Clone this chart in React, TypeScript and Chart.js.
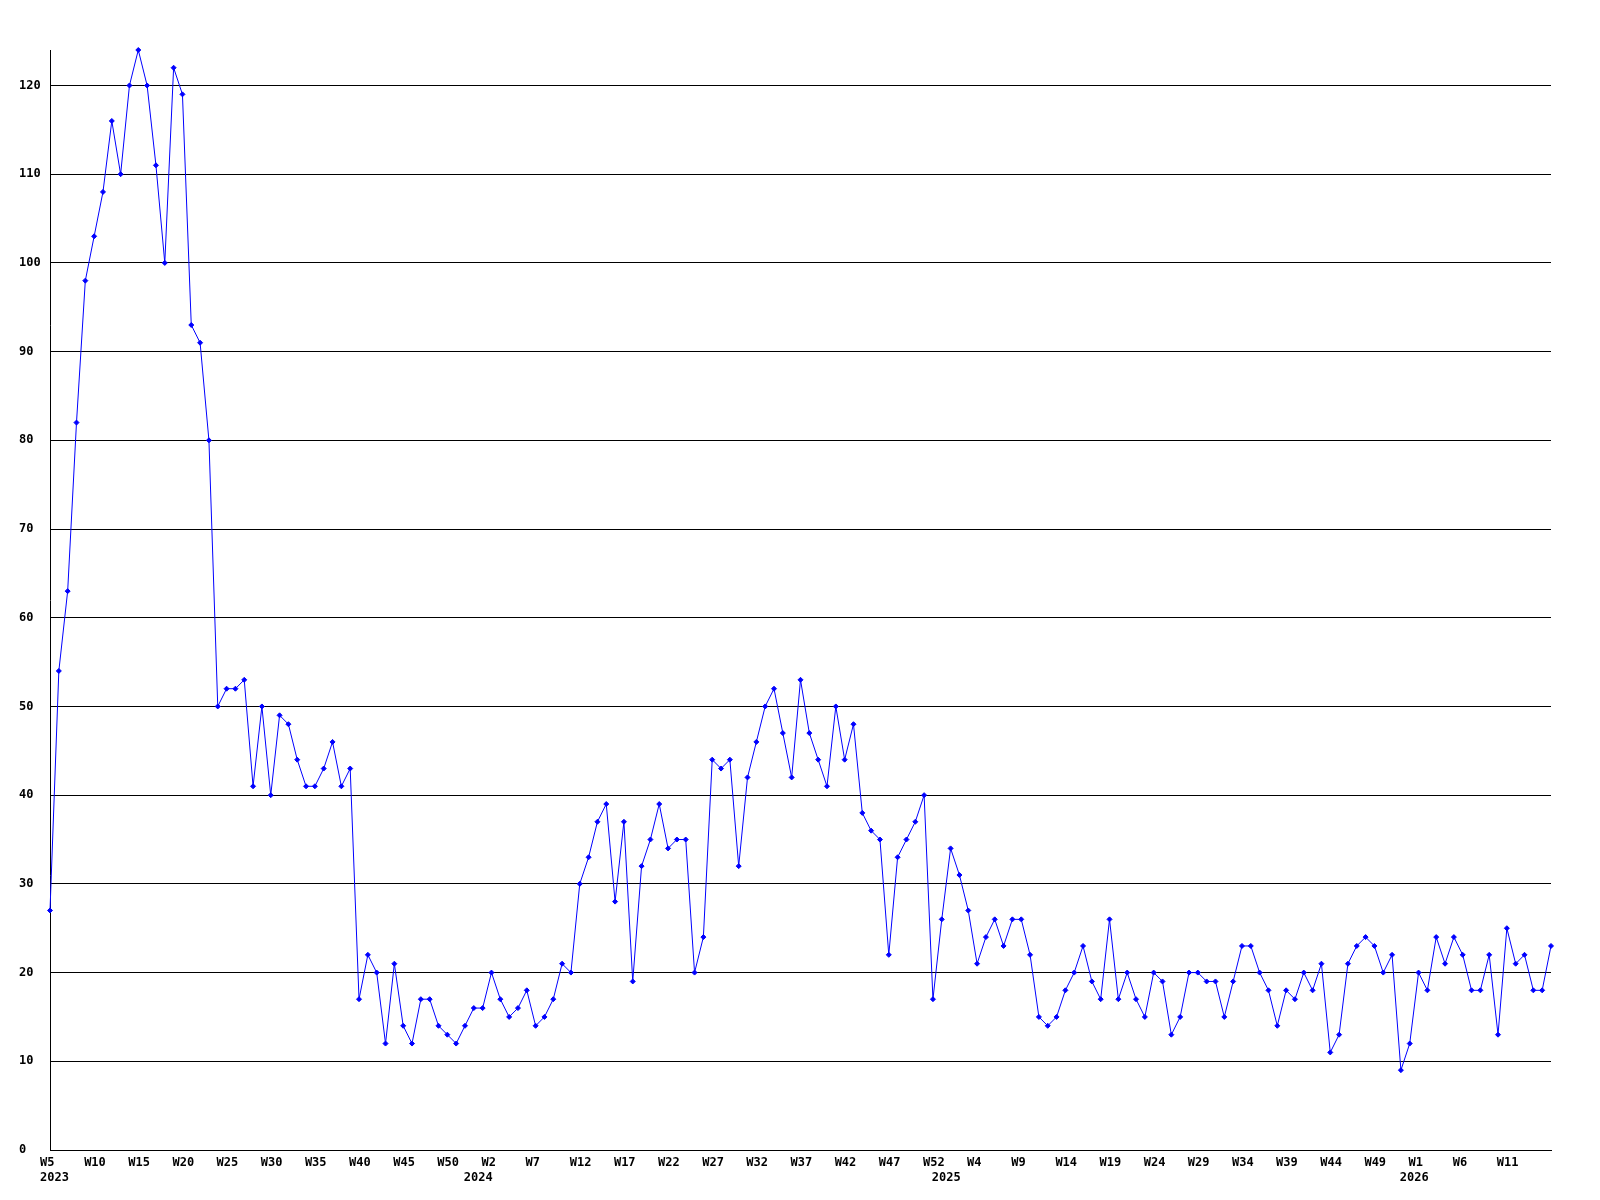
import React, { useEffect, useRef } from "react";
import { Chart, registerables } from "chart.js";

Chart.register(...registerables);

// Weekly values, 2023 W5 .. 2026 W16
const values: number[] = [
  27, 54, 63, 82, 98, 103, 108, 116, 110, 120,
  124, 120, 111, 100, 122, 119, 93, 91, 80, 50,
  52, 52, 53, 41, 50, 40, 49, 48, 44, 41,
  41, 43, 46, 41, 43, 17, 22, 20, 12, 21,
  14, 12, 17, 17, 14, 13, 12, 14, 16, 16,
  20, 17, 15, 16, 18, 14, 15, 17, 21, 20,
  30, 33, 37, 39, 28, 37, 19, 32, 35, 39,
  34, 35, 35, 20, 24, 44, 43, 44, 32, 42,
  46, 50, 52, 47, 42, 53, 47, 44, 41, 50,
  44, 48, 38, 36, 35, 22, 33, 35, 37, 40,
  17, 26, 34, 31, 27, 21, 24, 26, 23, 26,
  26, 22, 15, 14, 15, 18, 20, 23, 19, 17,
  26, 17, 20, 17, 15, 20, 19, 13, 15, 20,
  20, 19, 19, 15, 19, 23, 23, 20, 18, 14,
  18, 17, 20, 18, 21, 11, 13, 21, 23, 24,
  23, 20, 22, 9, 12, 20, 18, 24, 21, 24,
  22, 18, 18, 22, 13, 25, 21, 22, 18, 18, 23,
];

// Week numbering of the categories (per year: first and last week shown)
const years: number[] = [2023, 2024, 2025, 2026];
const firstWeeks: number[] = [5, 0, 0, 0];
const lastWeeks: number[] = [52, 52, 52, 16];

const yTickValues: number[] = [0, 10, 20, 30, 40, 50, 60, 70, 80, 90, 100, 110, 120];
const yMax = 124;
const labelEvery = 5;

type Cat = { year: number; week: number };
const categories: Cat[] = [];
years.forEach((y, i) => {
  for (let w = firstWeeks[i]; w <= lastWeeks[i]; w++) categories.push({ year: y, week: w });
});
const labels: string[] = categories.map((c) => `${c.year}-W${c.week}`);

const tickFont = {
  family: "'DejaVu Sans Mono', 'Liberation Mono', monospace",
  size: 12,
  weight: "bold" as const,
  lineHeight: 1.25,
};

export default function App() {
  const ref = useRef<HTMLCanvasElement | null>(null);

  useEffect(() => {
    if (!ref.current) return;
    const chart = new Chart(ref.current, {
      type: "line",
      data: {
        labels,
        datasets: [
          {
            data: values,
            borderColor: "#0000ff",
            backgroundColor: "#0000ff",
            borderWidth: 1,
            pointStyle: "rectRot",
            pointRadius: 2.5,
            pointBorderWidth: 1,
            pointBackgroundColor: "#0000ff",
            pointBorderColor: "#0000ff",
            tension: 0,
            fill: false,
            clip: false as any,
          },
        ],
      },
      options: {
        animation: false,
        responsive: false,
        devicePixelRatio: 1,
        events: [],
        layout: {
          autoPadding: false,
          padding: { left: 19, top: 50, right: 49, bottom: 0 },
        },
        plugins: {
          legend: { display: false },
          tooltip: { enabled: false },
        },
        scales: {
          x: {
            type: "category",
            offset: false,
            grid: { display: false, drawTicks: false },
            border: { display: true, color: "#000000", width: 1 },
            afterFit: (s: any) => {
              s.height = 50;
            },
            ticks: {
              autoSkip: false,
              maxRotation: 0,
              minRotation: 0,
              align: "start",
              labelOffset: -10,
              padding: 5,
              color: "#000000",
              font: tickFont,
              callback: (_v: any, index: number) => {
                const c = categories[index];
                if (index === categories.length - 1) return "";
                const showWeek = index % labelEvery === 0;
                const showYear = index === 0 || c.week === 0;
                if (!showWeek && !showYear) return "";
                const w = showWeek ? `W${c.week}` : "";
                return showYear ? [w, String(c.year)] : w;
              },
            },
          },
          y: {
            min: 0,
            max: yMax,
            grid: { display: true, color: "#000000", lineWidth: 1, drawTicks: false },
            border: { display: true, color: "#000000", width: 1 },
            afterFit: (s: any) => {
              s.width = 31;
            },
            afterBuildTicks: (s: any) => {
              s.ticks = yTickValues.map((v) => ({ value: v }));
            },
            ticks: {
              crossAlign: "far",
              padding: 0,
              color: "#000000",
              font: tickFont,
            },
          },
        },
      },
    } as any);
    return () => chart.destroy();
  }, []);

  return (
    <div style={{ position: "absolute", left: 0, top: 0, width: 1600, height: 1200, background: "#ffffff" }}>
      <canvas ref={ref} width={1600} height={1200} style={{ width: 1600, height: 1200, display: "block" }} />
    </div>
  );
}
